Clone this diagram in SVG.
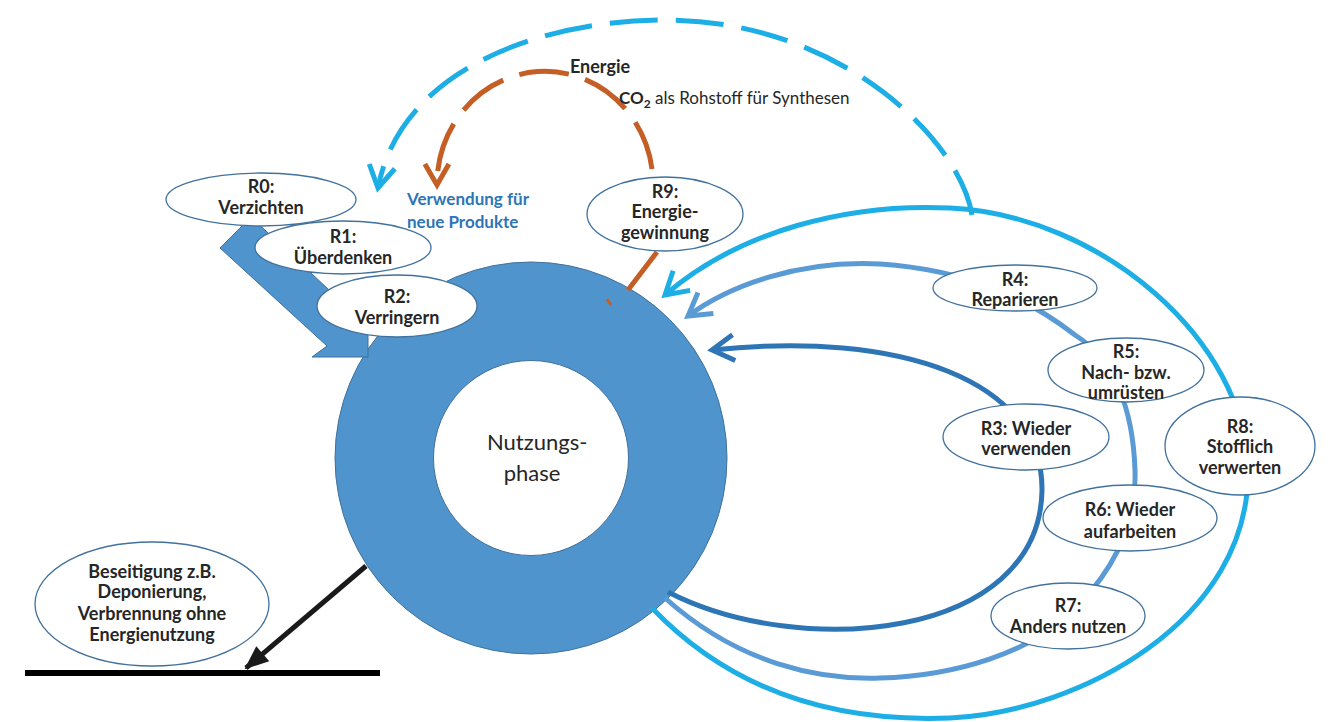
<svg xmlns="http://www.w3.org/2000/svg" width="1333" height="722" viewBox="0 0 1333 722">
  <style>
    .node { fill: #ffffff; stroke: #41719C; stroke-width: 1.3; }
    .lbl { font-family: Lato, "Liberation Sans", sans-serif; font-size: 18px; font-weight: bold; fill: #262626; text-anchor: middle; }
    .arc { fill: none; stroke-width: 5; }
    .light { stroke: #1DAEE6; }
    .mid { stroke: #5B9BD5; }
    .dark { stroke: #2E75B6; }
    .orange { stroke: #C55E25; }
  </style>
  <defs>
    <marker id="head-light" markerUnits="userSpaceOnUse" viewBox="-30 -20 40 40" markerWidth="40" markerHeight="40" refX="0" refY="0" orient="auto" overflow="visible">
      <path d="M-22,-13 L0,0 L-22,13" fill="none" stroke="#1DAEE6" stroke-width="5"/>
    </marker>
    <marker id="head-mid" markerUnits="userSpaceOnUse" viewBox="-30 -20 40 40" markerWidth="40" markerHeight="40" refX="0" refY="0" orient="auto" overflow="visible">
      <path d="M-22,-13 L0,0 L-22,13" fill="none" stroke="#5B9BD5" stroke-width="5"/>
    </marker>
    <marker id="head-dark" markerUnits="userSpaceOnUse" viewBox="-30 -20 40 40" markerWidth="40" markerHeight="40" refX="0" refY="0" orient="auto" overflow="visible">
      <path d="M-22,-13 L0,0 L-22,13" fill="none" stroke="#2E75B6" stroke-width="5"/>
    </marker>
    <marker id="head-orange" markerUnits="userSpaceOnUse" viewBox="-30 -20 40 40" markerWidth="40" markerHeight="40" refX="0" refY="0" orient="auto" overflow="visible">
      <path d="M-21,-12 L0,0 L-21,12" fill="none" stroke="#C55E25" stroke-width="5"/>
    </marker>
    <marker id="head-black" markerUnits="userSpaceOnUse" viewBox="-30 -20 40 40" markerWidth="40" markerHeight="40" refX="0" refY="0" orient="auto" overflow="visible">
      <path d="M-22,-10 L2,0 L-22,10 Z" fill="#1A1A1A"/>
    </marker>
  </defs>

  <!-- central use phase ring -->
  <g id="nutzungsphase">
    <circle cx="531" cy="458" r="196" fill="#4F94CD" stroke="#41719C" stroke-width="1"/>
    <circle cx="531" cy="458" r="97.5" fill="#ffffff" stroke="#41719C" stroke-width="1"/>
    <text font-family="Lato, 'Liberation Sans', sans-serif" font-size="22" fill="#262626" text-anchor="middle">
      <tspan x="540" y="450">Nutzungs-</tspan>
      <tspan x="532" y="481">phase</tspan>
    </text>
  </g>

  <!-- loops and flows -->
  <g id="connectors">
    <!-- R0-R2 block arrow into the ring -->
    <polygon points="220,248 251,217 357,316 368,301 368,357 312,357 327,346" fill="#4F94CD" stroke="#41719C" stroke-width="1"/>
    <!-- R8 loop -->
    <path class="arc light" d="M652,608 C740,700 850,722 950,718 C1080,712 1250,620 1248,470 C1246,340 1100,215 950,208 C850,203 740,230 665,295" marker-end="url(#head-light)"/>
    <!-- R4-R7 loop -->
    <path class="arc mid" d="M665,598 C740,665 820,680 880,678 C960,676 1030,650 1066,617 C1110,577 1137,530 1135,470 C1133,410 1115,360 1075,335 C1030,300 970,270 880,264 C800,260 730,285 688,316" marker-end="url(#head-mid)"/>
    <!-- R3 loop -->
    <path class="arc dark" d="M668,592 C800,660 1040,640 1042,490 C1043,380 900,330 712,350" marker-end="url(#head-dark)"/>
    <!-- material recycling back to new products (dashed) -->
    <path class="arc light" stroke-dasharray="48 18" d="M972,215 C960,140 840,20 665,20 C540,20 400,70 378,188" marker-end="url(#head-light)"/>
    <!-- energy recovery: CO2 feedstock (dashed) -->
    <path class="arc orange" stroke-dasharray="50 17" d="M652,169 A108 113 0 0 0 437,185" marker-end="url(#head-orange)"/>
    <path class="arc orange" d="M628,290 L657,252"/>
    <line x1="607" y1="299" x2="611" y2="305" stroke="#C55E25" stroke-width="3"/>
    <!-- disposal -->
    <line x1="366" y1="566" x2="246" y2="668" stroke="#1A1A1A" stroke-width="5" marker-end="url(#head-black)"/>
    <line x1="25" y1="673" x2="380" y2="673" stroke="#000000" stroke-width="6"/>
  </g>

  <!-- flow labels -->
  <g id="labels" font-family="Lato, 'Liberation Sans', sans-serif" font-size="17">
    <text x="600" y="73" font-weight="bold" font-size="18" fill="#262626" text-anchor="middle">Energie</text>
    <text x="619" y="104" fill="#262626"><tspan font-weight="bold">CO</tspan><tspan font-weight="bold" font-size="12" dy="4">2</tspan><tspan dy="-4"> als Rohstoff für Synthesen</tspan></text>
    <text font-weight="bold" fill="#2E75B6">
      <tspan x="407" y="205">Verwendung für</tspan>
      <tspan x="407" y="228">neue Produkte</tspan>
    </text>
  </g>

  <g id="r2">
    <ellipse class="node" cx="397" cy="306" rx="80" ry="31"/>
    <text class="lbl"><tspan x="397" y="303">R2:</tspan><tspan x="397" y="324">Verringern</tspan></text>
  </g>
  <g id="r1">
    <ellipse class="node" cx="343" cy="247.5" rx="88" ry="26.5"/>
    <text class="lbl"><tspan x="343" y="243">R1:</tspan><tspan x="343" y="264">Überdenken</tspan></text>
  </g>
  <g id="r0">
    <ellipse class="node" cx="261" cy="199.5" rx="95" ry="26.5"/>
    <text class="lbl"><tspan x="261" y="193">R0:</tspan><tspan x="261" y="214">Verzichten</tspan></text>
  </g>
  <g id="r9">
    <ellipse class="node" cx="665" cy="214" rx="78" ry="37"/>
    <text class="lbl"><tspan x="665" y="198">R9:</tspan><tspan x="665" y="218">Energie-</tspan><tspan x="665" y="239">gewinnung</tspan></text>
  </g>
  <g id="r4">
    <ellipse class="node" cx="1015" cy="288" rx="82" ry="23"/>
    <text class="lbl"><tspan x="1015" y="286">R4:</tspan><tspan x="1015" y="306">Reparieren</tspan></text>
  </g>
  <g id="r5">
    <ellipse class="node" cx="1126" cy="370" rx="78" ry="32"/>
    <text class="lbl"><tspan x="1126" y="358">R5:</tspan><tspan x="1126" y="379">Nach- bzw.</tspan><tspan x="1126" y="399">umrüsten</tspan></text>
  </g>
  <g id="r3">
    <ellipse class="node" cx="1026" cy="437" rx="83" ry="33"/>
    <text class="lbl"><tspan x="1026" y="435">R3: Wieder</tspan><tspan x="1026" y="455">verwenden</tspan></text>
  </g>
  <g id="r8">
    <ellipse class="node" cx="1240" cy="446" rx="75" ry="49"/>
    <text class="lbl"><tspan x="1240" y="433">R8:</tspan><tspan x="1240" y="453">Stofflich</tspan><tspan x="1240" y="474">verwerten</tspan></text>
  </g>
  <g id="r6">
    <ellipse class="node" cx="1130" cy="518" rx="87" ry="33"/>
    <text class="lbl"><tspan x="1130" y="516">R6: Wieder</tspan><tspan x="1130" y="538">aufarbeiten</tspan></text>
  </g>
  <g id="r7">
    <ellipse class="node" cx="1068" cy="616" rx="77" ry="33"/>
    <text class="lbl"><tspan x="1068" y="612">R7:</tspan><tspan x="1068" y="633">Anders nutzen</tspan></text>
  </g>
  <g id="beseitigung">
    <ellipse class="node" cx="152" cy="604" rx="117" ry="62"/>
    <text class="lbl"><tspan x="152" y="578">Beseitigung z.B.</tspan><tspan x="152" y="598">Deponierung,</tspan><tspan x="152" y="620">Verbrennung ohne</tspan><tspan x="152" y="641">Energienutzung</tspan></text>
  </g>
</svg>
